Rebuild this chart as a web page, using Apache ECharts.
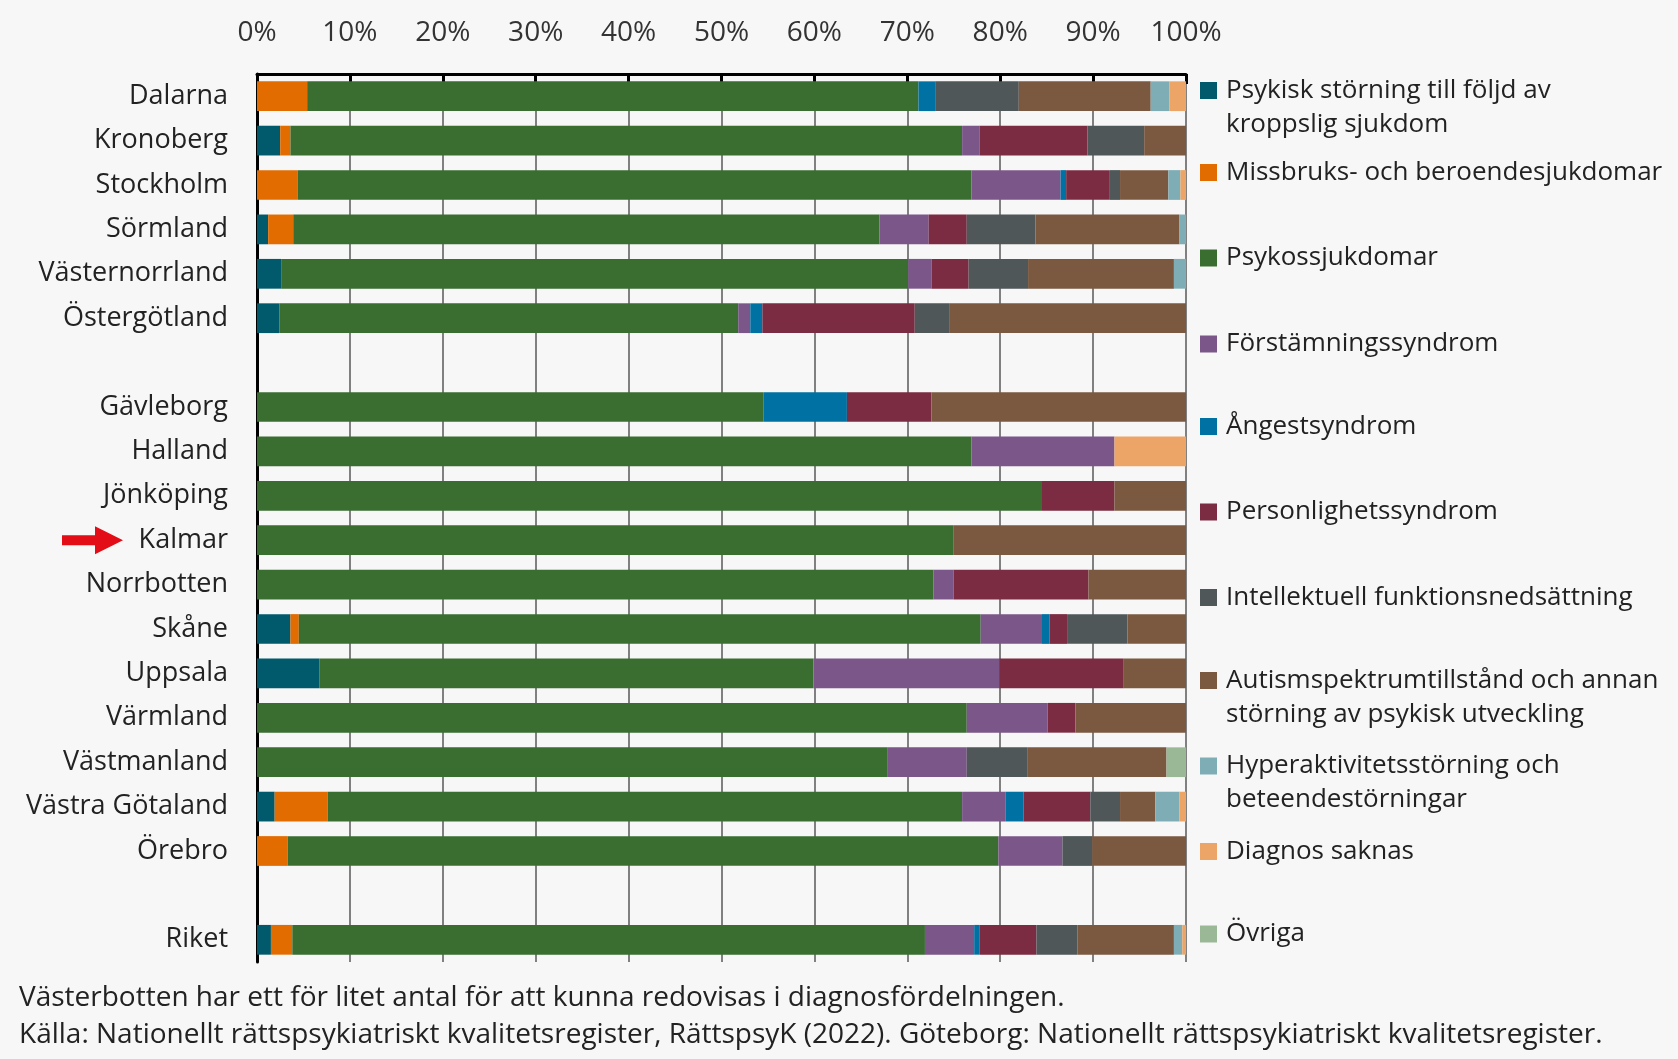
<!DOCTYPE html>
<html lang="sv">
<head>
<meta charset="utf-8">
<title>Diagnosfördelning per region</title>
<script src="https://cdn.jsdelivr.net/npm/echarts@6/dist/echarts.min.js"></script>
<style>
  html, body { margin: 0; padding: 0; background: #f7f7f7; }
  #chart { width: 1678px; height: 1059px; }
</style>
</head>
<body>
<div id="chart"></div>
<script>
// Regions, top to bottom; blank rows are inserted after the listed ones
const regions = ['Dalarna', 'Kronoberg', 'Stockholm', 'Sörmland', 'Västernorrland', 'Östergötland',
  'Gävleborg', 'Halland', 'Jönköping', 'Kalmar', 'Norrbotten', 'Skåne', 'Uppsala', 'Värmland',
  'Västmanland', 'Västra Götaland', 'Örebro', 'Riket'];
const gapAfter = ['Östergötland', 'Örebro'];
const highlighted = 'Kalmar';

// Share of patients per diagnosis group (%), one value per region in the order above
const kroppslig      = [0, 2.5, 0, 1.2, 2.6, 2.4, 0, 0, 0, 0, 0, 3.6, 6.7, 0, 0, 1.9, 0, 1.5];
const missbruk       = [5.4, 1.1, 4.4, 2.7, 0, 0, 0, 0, 0, 0, 0, 0.9, 0, 0, 0, 5.7, 3.3, 2.3];
const psykos         = [65.8, 72.3, 72.5, 63.1, 67.5, 49.4, 54.5, 76.9, 84.5, 75.0, 72.8, 73.4, 53.2, 76.4, 67.9, 68.3, 76.5, 68.1];
const forstamning    = [0, 1.9, 9.6, 5.3, 2.5, 1.3, 0, 15.4, 0, 0, 2.2, 6.6, 20.0, 8.7, 8.5, 4.7, 6.9, 5.3];
const angest         = [1.8, 0, 0.6, 0, 0, 1.3, 9.0, 0, 0, 0, 0, 0.8, 0, 0, 0, 1.9, 0, 0.6];
const personlighet   = [0, 11.6, 4.7, 4.1, 4.0, 16.4, 9.1, 0, 7.8, 0, 14.5, 1.9, 13.4, 3.0, 0, 7.2, 0, 6.1];
const intellektuell  = [9.0, 6.1, 1.1, 7.4, 6.4, 3.7, 0, 0, 0, 0, 0, 6.5, 0, 0, 6.5, 3.2, 3.2, 4.4];
const autism         = [14.2, 4.5, 5.2, 15.5, 15.7, 25.5, 27.4, 0, 7.7, 25.0, 10.5, 6.3, 6.7, 11.9, 15.0, 3.8, 10.1, 10.4];
const hyperaktivitet = [2.0, 0, 1.3, 0.7, 1.3, 0, 0, 0, 0, 0, 0, 0, 0, 0, 0, 2.6, 0, 0.9];
const saknas         = [1.8, 0, 0.6, 0, 0, 0, 0, 7.7, 0, 0, 0, 0, 0, 0, 0, 0.7, 0, 0.4];
const ovriga         = [0, 0, 0, 0, 0, 0, 0, 0, 0, 0, 0, 0, 0, 0, 2.1, 0, 0, 0];

const seriesNames = [
  'Psykisk störning till följd av\nkroppslig sjukdom',
  'Missbruks- och beroendesjukdomar',
  'Psykossjukdomar',
  'Förstämningssyndrom',
  'Ångestsyndrom',
  'Personlighetssyndrom',
  'Intellektuell funktionsnedsättning',
  'Autismspektrumtillstånd och annan\nstörning av psykisk utveckling',
  'Hyperaktivitetsstörning och\nbeteendestörningar',
  'Diagnos saknas',
  'Övriga'
];
const seriesValues = [kroppslig, missbruk, psykos, forstamning, angest, personlighet,
  intellektuell, autism, hyperaktivitet, saknas, ovriga];
const seriesColors = ['#005a6b', '#e26c00', '#3a6e31', '#7b5689', '#0071a3', '#7b2b42',
  '#4f5759', '#7b5840', '#7fadb6', '#eca566', '#9bb896'];

const tickLabels = ['0%', '10%', '20%', '30%', '40%', '50%', '60%', '70%', '80%', '90%', '100%'];

const footnote = 'Västerbotten har ett för litet antal för att kunna redovisas i diagnosfördelningen.';
const source = 'Källa: Nationellt rättspsykiatriskt kvalitetsregister, RättspsyK (2022). Göteborg: Nationellt rättspsykiatriskt kvalitetsregister.';

// Build the category list with empty separator rows
const categories = [];
const rowIndex = [];
regions.forEach((r) => {
  rowIndex.push(categories.length);
  categories.push(r);
  const g = gapAfter.indexOf(r);
  if (g >= 0) categories.push(' '.repeat(g + 1));
});
function spread(values) {
  const out = categories.map(() => null);
  values.forEach((v, i) => { out[rowIndex[i]] = v > 0 ? v : null; });
  return out;
}

const FONT = '"Open Sans", "Noto Sans", sans-serif';
const TEXT = '#222222';

const chart = echarts.init(document.getElementById('chart'), null, { renderer: 'canvas' });

// One legend block per item so two-line entries keep their icon on the first line
// (a blank leading line centres the first text line on the icon)
const legendLine = 34;
const legendFirstLines = [90.5, 172.5, 258, 344, 426.5, 512, 597.5, 680.5, 766, 851.5, 934];
const legends = seriesNames.map((name, i) => {
  const twoLines = name.indexOf('\n') >= 0;
  return {
    data: [name],
    orient: 'vertical',
    left: 1200,
    top: twoLines ? legendFirstLines[i] - 1.5 * legendLine : legendFirstLines[i] - legendLine / 2,
    padding: 0,
    icon: 'rect',
    itemWidth: 17,
    itemHeight: 17,
    selectedMode: false,
    formatter: (n) => (n.indexOf('\n') >= 0 ? ' \n' + n : n),
    textStyle: {
      fontFamily: FONT,
      fontSize: 26,
      color: TEXT,
      lineHeight: legendLine,
      padding: [0, 0, 0, 4]
    }
  };
});

chart.setOption({
  backgroundColor: '#f7f7f7',
  animation: false,
  title: [
    { text: footnote, left: 19, top: 983, padding: 0,
      textStyle: { fontFamily: FONT, fontSize: 28, fontWeight: 'normal', color: TEXT, lineHeight: 30 } },
    { text: source, left: 19, top: 1020, padding: 0,
      textStyle: { fontFamily: FONT, fontSize: 28, fontWeight: 'normal', color: TEXT, lineHeight: 30 } }
  ],
  legend: legends,
  grid: { left: 257, right: 492, top: 74, bottom: 97, containLabel: false },
  xAxis: {
    type: 'value',
    position: 'top',
    min: 0,
    max: 100,
    interval: 10,
    axisLine: { show: true, onZero: false, lineStyle: { color: '#000', width: 3 } },
    axisTick: { show: true, inside: true, length: 10, lineStyle: { color: '#000', width: 3 } },
    axisLabel: {
      margin: 27,
      fontFamily: FONT,
      fontSize: 28,
      color: '#333',
      formatter: (v) => tickLabels[Math.round(v / 10)]
    },
    splitLine: { show: true, lineStyle: { color: '#808080', width: 2 } }
  },
  yAxis: {
    type: 'category',
    inverse: true,
    data: categories,
    axisLine: { show: true, lineStyle: { color: '#000', width: 3 } },
    axisTick: { show: false },
    axisLabel: { margin: 29, fontFamily: FONT, fontSize: 27, color: TEXT }
  },
  series: seriesNames.map((name, i) => ({
    name,
    type: 'bar',
    stack: 'andel',
    barCategoryGap: '33%',
    itemStyle: { color: seriesColors[i] },
    emphasis: { disabled: true },
    data: spread(seriesValues[i])
  }))
});

// Red arrow pointing at the highlighted region's label
const gridLeft = 257;
const yMid = chart.convertToPixel({ yAxisIndex: 0 }, highlighted);
const xTail = gridLeft - 195, xNeck = gridLeft - 162, xTip = gridLeft - 134;
chart.setOption({
  graphic: [{
    type: 'polygon',
    silent: true,
    shape: {
      points: [
        [xTail, yMid - 5], [xNeck, yMid - 5], [xNeck, yMid - 14], [xTip, yMid],
        [xNeck, yMid + 14], [xNeck, yMid + 5], [xTail, yMid + 5]
      ]
    },
    style: { fill: '#e30d17' }
  }]
});
</script>
</body>
</html>
